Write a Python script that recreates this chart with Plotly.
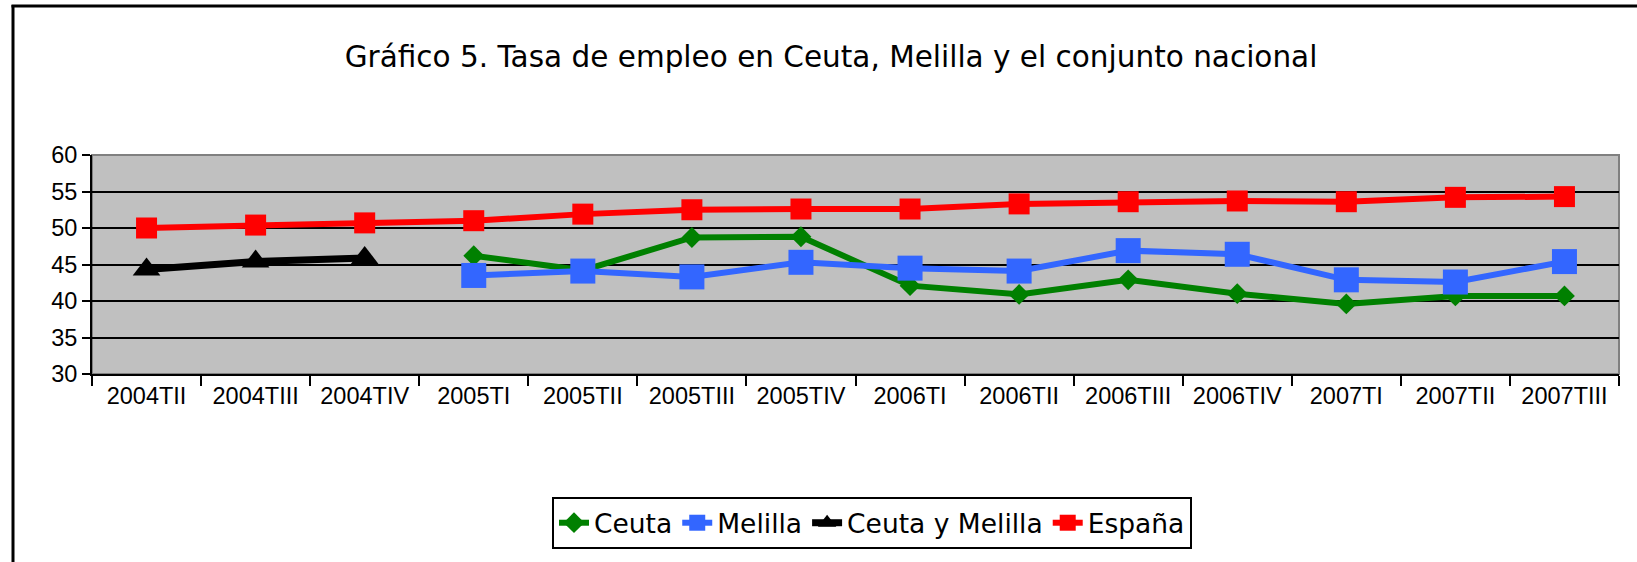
import plotly.graph_objects as go

categories = ["2004TII", "2004TIII", "2004TIV", "2005TI", "2005TII", "2005TIII", "2005TIV",
              "2006TI", "2006TII", "2006TIII", "2006TIV", "2007TI", "2007TII", "2007TIII"]
ceuta = [None, None, None, 46.2, 44.2, 48.7, 48.8, 42.1, 40.9, 42.9, 41.0, 39.6, 40.7, 40.7]
melilla = [None, None, None, 43.5, 44.1, 43.3, 45.3, 44.5, 44.1, 46.9, 46.4, 42.9, 42.6, 45.4]
ceuta_melilla = [44.3, 45.4, 45.9, None, None, None, None, None, None, None, None, None, None, None]
espana = [50.0, 50.4, 50.7, 51.0, 51.9, 52.5, 52.6, 52.6, 53.3, 53.6, 53.7, 53.6, 54.2, 54.3]
y_ticks = [30, 35, 40, 45, 50, 55, 60]

W, H = 1637, 562
L, R, T, B = 92, 1619, 155, 374  # plot area in pixels
pw, ph = R - L, B - T

def px(x):
    return (x - L) / pw

def py(y):
    return (B - y) / ph

fig = go.Figure()
fig.add_trace(go.Scatter(x=categories, y=ceuta, name="Ceuta", mode="lines+markers",
                         line=dict(color="#008000", width=6),
                         marker=dict(symbol="diamond", size=16, color="#008000")))
fig.add_trace(go.Scatter(x=categories, y=melilla, name="Melilla", mode="lines+markers",
                         line=dict(color="#3366FF", width=6),
                         marker=dict(symbol="square", size=25, color="#3366FF")))
fig.add_trace(go.Scatter(x=categories, y=ceuta_melilla, name="Ceuta y Melilla", mode="lines+markers",
                         line=dict(color="#000000", width=7),
                         marker=dict(symbol="triangle-up", size=24, color="#000000")))
fig.add_trace(go.Scatter(x=categories, y=espana, name="España", mode="lines+markers",
                         line=dict(color="#FF0000", width=6),
                         marker=dict(symbol="square", size=21, color="#FF0000")))

fig.update_layout(
    width=W, height=H,
    margin=dict(l=L, r=W - R, t=T, b=H - B, autoexpand=False),
    paper_bgcolor="white",
    plot_bgcolor="#C0C0C0",
    title=dict(text="Gráfico 5. Tasa de empleo en Ceuta, Melilla y el conjunto nacional",
               x=831 / W, xanchor="center", y=1 - 57 / H, yanchor="middle",
               font=dict(family="DejaVu Sans, Verdana", size=29.5, color="black")),
    showlegend=True,
    legend=dict(orientation="h", x=px(872), xanchor="center", y=py(497), yanchor="top",
                bordercolor="black", borderwidth=2, bgcolor="white",
                font=dict(family="DejaVu Sans, Verdana", size=26.5, color="black"),
                itemsizing="trace", tracegroupgap=0),
    font=dict(family="Liberation Sans, Arial", color="black"),
    shapes=[
        dict(type="rect", xref="paper", yref="paper", x0=0, x1=1, y0=0, y1=1,
             line=dict(color="#808080", width=2), layer="below"),
        dict(type="line", xref="paper", yref="paper", x0=px(13), x1=px(13), y0=py(5), y1=py(620),
             line=dict(color="black", width=3)),
        dict(type="line", xref="paper", yref="paper", x0=px(11.5), x1=px(1700), y0=py(6), y1=py(6),
             line=dict(color="black", width=3)),
    ],
)
fig.update_xaxes(type="category", showgrid=False, showline=True, linecolor="black", linewidth=2,
                 ticks="outside", tickson="boundaries", ticklen=10, tickwidth=2, tickcolor="black",
                 tickfont=dict(family="Liberation Sans, Arial", size=23.5, color="black"),
                 range=[-0.5, len(categories) - 0.5], zeroline=False)
fig.update_yaxes(range=[30, 60], tickvals=y_ticks, showgrid=True, gridcolor="black", gridwidth=2,
                 showline=True, linecolor="black", linewidth=2, ticks="outside", ticklen=8,
                 tickwidth=2, tickcolor="black", zeroline=False,
                 tickfont=dict(family="Liberation Sans, Arial", size=23.5, color="black"))

fig.write_html("out.html", config={"displayModeBar": False},
               post_script="document.body.style.margin='0';document.body.style.overflow='hidden';")
